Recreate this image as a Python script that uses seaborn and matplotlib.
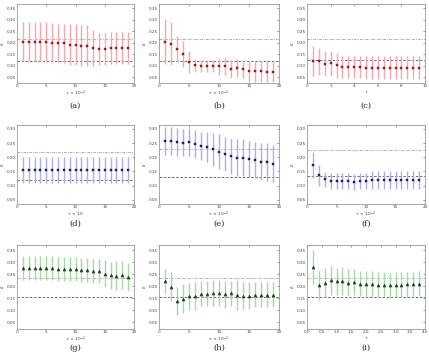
import numpy as np
import pandas as pd
import seaborn as sns
import matplotlib
matplotlib.use("Agg")
import matplotlib.pyplot as plt

sns.set_style("white")
plt.rcParams["font.family"] = ["DejaVu Sans"]

# ---- data ----
x_20 = [1, 2, 3, 4, 5, 6, 7, 8, 9, 10, 11, 12, 13, 14, 15, 16, 17, 18, 19]
x_c = [0.5, 1, 1.5, 2, 2.5, 3, 3.5, 4, 4.5, 5, 5.5, 6, 6.5, 7, 7.5, 8, 8.5, 9, 9.5]
x_i = [0.2, 0.4, 0.6, 0.8, 1.0, 1.2, 1.4, 1.6, 1.8, 2.0, 2.2, 2.4, 2.6, 2.8, 3.0, 3.2, 3.4, 3.6, 3.8]

mean_a = [0.205, 0.205, 0.205, 0.205, 0.205, 0.200, 0.200, 0.197, 0.192, 0.192,
          0.187, 0.187, 0.177, 0.173, 0.173, 0.177, 0.177, 0.177, 0.177]
err_a = [0.085, 0.085, 0.085, 0.085, 0.085, 0.085, 0.083, 0.085, 0.087, 0.087,
         0.088, 0.088, 0.078, 0.068, 0.070, 0.068, 0.068, 0.068, 0.068]

mean_b = [0.204, 0.196, 0.174, 0.152, 0.118, 0.101, 0.097, 0.097, 0.097, 0.097,
          0.097, 0.085, 0.090, 0.086, 0.075, 0.076, 0.076, 0.074, 0.074]
err_b = [0.098, 0.095, 0.055, 0.057, 0.048, 0.030, 0.026, 0.026, 0.026, 0.038,
         0.038, 0.038, 0.040, 0.040, 0.045, 0.045, 0.045, 0.045, 0.045]

mean_c = [0.120, 0.119, 0.109, 0.110, 0.101, 0.096, 0.096, 0.096, 0.096, 0.091,
          0.091, 0.091, 0.091, 0.091, 0.091, 0.091, 0.091, 0.091, 0.091]
err_c = [0.065, 0.060, 0.055, 0.055, 0.055, 0.048, 0.048, 0.048, 0.048, 0.050,
         0.050, 0.050, 0.050, 0.050, 0.050, 0.050, 0.050, 0.050, 0.050]

mean_d = [0.154] * 19
err_d = [0.046] * 19

mean_e = [0.257, 0.257, 0.254, 0.252, 0.254, 0.248, 0.241, 0.235, 0.228, 0.220,
          0.211, 0.203, 0.198, 0.198, 0.194, 0.190, 0.185, 0.183, 0.178]
err_e = [0.050, 0.050, 0.049, 0.049, 0.050, 0.049, 0.050, 0.053, 0.059, 0.062,
         0.060, 0.063, 0.065, 0.065, 0.064, 0.064, 0.066, 0.067, 0.067]

mean_f = [0.173, 0.136, 0.122, 0.115, 0.115, 0.115, 0.115, 0.114, 0.115, 0.115,
          0.119, 0.119, 0.119, 0.119, 0.119, 0.119, 0.119, 0.119, 0.119]
err_f = [0.045, 0.036, 0.026, 0.028, 0.028, 0.028, 0.028, 0.028, 0.028, 0.028,
         0.031, 0.031, 0.031, 0.031, 0.031, 0.031, 0.031, 0.031, 0.031]

mean_g = [0.277, 0.277, 0.277, 0.277, 0.277, 0.277, 0.273, 0.271, 0.271, 0.271,
          0.267, 0.267, 0.263, 0.263, 0.252, 0.245, 0.243, 0.245, 0.238]
err_g = [0.050, 0.050, 0.050, 0.050, 0.050, 0.050, 0.050, 0.050, 0.050, 0.050,
         0.050, 0.050, 0.050, 0.050, 0.055, 0.057, 0.060, 0.058, 0.060]

mean_h = [0.223, 0.198, 0.137, 0.148, 0.159, 0.160, 0.168, 0.168, 0.171, 0.170,
          0.166, 0.170, 0.163, 0.160, 0.160, 0.164, 0.164, 0.164, 0.164]
err_h = [0.050, 0.060, 0.058, 0.060, 0.056, 0.057, 0.052, 0.052, 0.054, 0.054,
         0.055, 0.053, 0.061, 0.056, 0.056, 0.052, 0.052, 0.052, 0.052]

mean_i = [0.281, 0.203, 0.215, 0.224, 0.220, 0.221, 0.215, 0.217, 0.211, 0.208,
          0.208, 0.206, 0.206, 0.204, 0.206, 0.206, 0.208, 0.208, 0.211]
err_i = [0.070, 0.060, 0.060, 0.060, 0.057, 0.057, 0.055, 0.055, 0.053, 0.053,
         0.053, 0.052, 0.052, 0.052, 0.052, 0.052, 0.052, 0.052, 0.053]

# reference levels: (dash-dot upper, dashed lower)
ref_lines = {
    "a": (0.216, 0.120), "b": (0.216, 0.120), "c": (0.216, 0.123),
    "d": (0.219, 0.120), "e": (0.228, 0.132), "f": (0.226, 0.133),
    "g": (0.233, 0.153), "h": (0.233, 0.153), "i": (0.235, 0.154),
}

panels = [
    ("a", x_20, mean_a, err_a, r"$\tau\ \times 10^{-2}$"),
    ("b", x_20, mean_b, err_b, r"$\tau\ \times 10^{-2}$"),
    ("c", x_c, mean_c, err_c, r"$\tau$"),
    ("d", x_20, mean_d, err_d, r"$\tau\ \times 10$"),
    ("e", x_20, mean_e, err_e, r"$\tau\ \times 10^{-2}$"),
    ("f", x_20, mean_f, err_f, r"$\tau\ \times 10^{-2}$"),
    ("g", x_20, mean_g, err_g, r"$\tau\ \times 10^{-2}$"),
    ("h", x_20, mean_h, err_h, r"$\tau\ \times 10^{-2}$"),
    ("i", x_i, mean_i, err_i, r"$\tau$"),
]

row_style = [
    dict(bar="#f5a7ac", mk="#a3151c", marker="s", ms=4, ylim=(0.025, 0.368),
         yticks=[0.05, 0.10, 0.15, 0.20, 0.25, 0.30, 0.35]),
    dict(bar="#adadf0", mk="#1c1c6e", marker="s", ms=2.5, ylim=(0.035, 0.314),
         yticks=[0.05, 0.10, 0.15, 0.20, 0.25, 0.30]),
    dict(bar="#aad8a4", mk="#1d3d1d", marker="^", ms=5, ylim=(0.022, 0.371),
         yticks=[0.05, 0.10, 0.15, 0.20, 0.25, 0.30, 0.35]),
]

W, H = 429, 355
fig = plt.figure(figsize=(W / 100, H / 100), dpi=100)

col_px = [(17, 134), (159, 279), (307, 425)]
row_px = [(4, 83), (125, 204), (245, 329)]
cap_y = [106, 224, 348]

for k, (name, xs, mean, err, xlab) in enumerate(panels):
    r, c = divmod(k, 3)
    st = row_style[r]
    x0, x1 = col_px[c]
    y0, y1 = row_px[r]
    ax = fig.add_axes([x0 / W, 1 - y1 / H, (x1 - x0) / W, (y1 - y0) / H])

    df = pd.DataFrame({"x": xs, "mean": mean, "err": err})
    ax.errorbar(df["x"], df["mean"], yerr=df["err"], fmt="none",
                ecolor=st["bar"], elinewidth=1.0, capsize=0, zorder=2)
    sns.scatterplot(data=df, x="x", y="mean", ax=ax, marker=st["marker"],
                    s=st["ms"], color=st["mk"], edgecolor=st["mk"],
                    linewidth=0.3, zorder=3, legend=False)

    hi, lo = ref_lines[name]
    ax.axhline(hi, color="#9a9a9a", lw=0.6, ls=(0, (3, 1.5, 1, 1.5)), zorder=1)
    ax.axhline(lo, color="#555555", lw=0.6, ls=(0, (3, 2)), zorder=1)

    if name == "c":
        ax.set_xlim(0, 10)
        ax.set_xticks([0, 2, 4, 6, 8, 10])
    elif name == "i":
        ax.set_xlim(0, 4)
        ax.set_xticks([0.0, 0.5, 1.0, 1.5, 2.0, 2.5, 3.0, 3.5, 4.0])
        ax.set_xticklabels(["0.0", "0.5", "1.0", "1.5", "2.0", "2.5", "3.0", "3.5", "4.0"])
    else:
        ax.set_xlim(0, 20)
        ax.set_xticks([0, 5, 10, 15, 20])
    ax.set_ylim(*st["ylim"])
    ax.set_yticks(st["yticks"])
    ax.set_yticklabels([f"{v:.2f}" for v in st["yticks"]])

    ax.tick_params(labelsize=3, length=1.5, width=0.4, direction="in",
                   pad=1.0, colors="#444444", top=True, right=True)
    ax.set_xlabel(xlab, fontsize=3.2, labelpad=0.5, color="#444444")
    ax.set_ylabel(r"$\varepsilon$", fontsize=3.5, labelpad=0.5, color="#444444")
    for sp in ax.spines.values():
        sp.set_color("#999999")
        sp.set_linewidth(0.6)

    fig.text(((x0 + x1) / 2) / W, 1 - cap_y[r] / H, f"({name})",
             ha="center", va="center", fontsize=6, family="DejaVu Serif")

fig.savefig("out.png", dpi=100, facecolor="white")
